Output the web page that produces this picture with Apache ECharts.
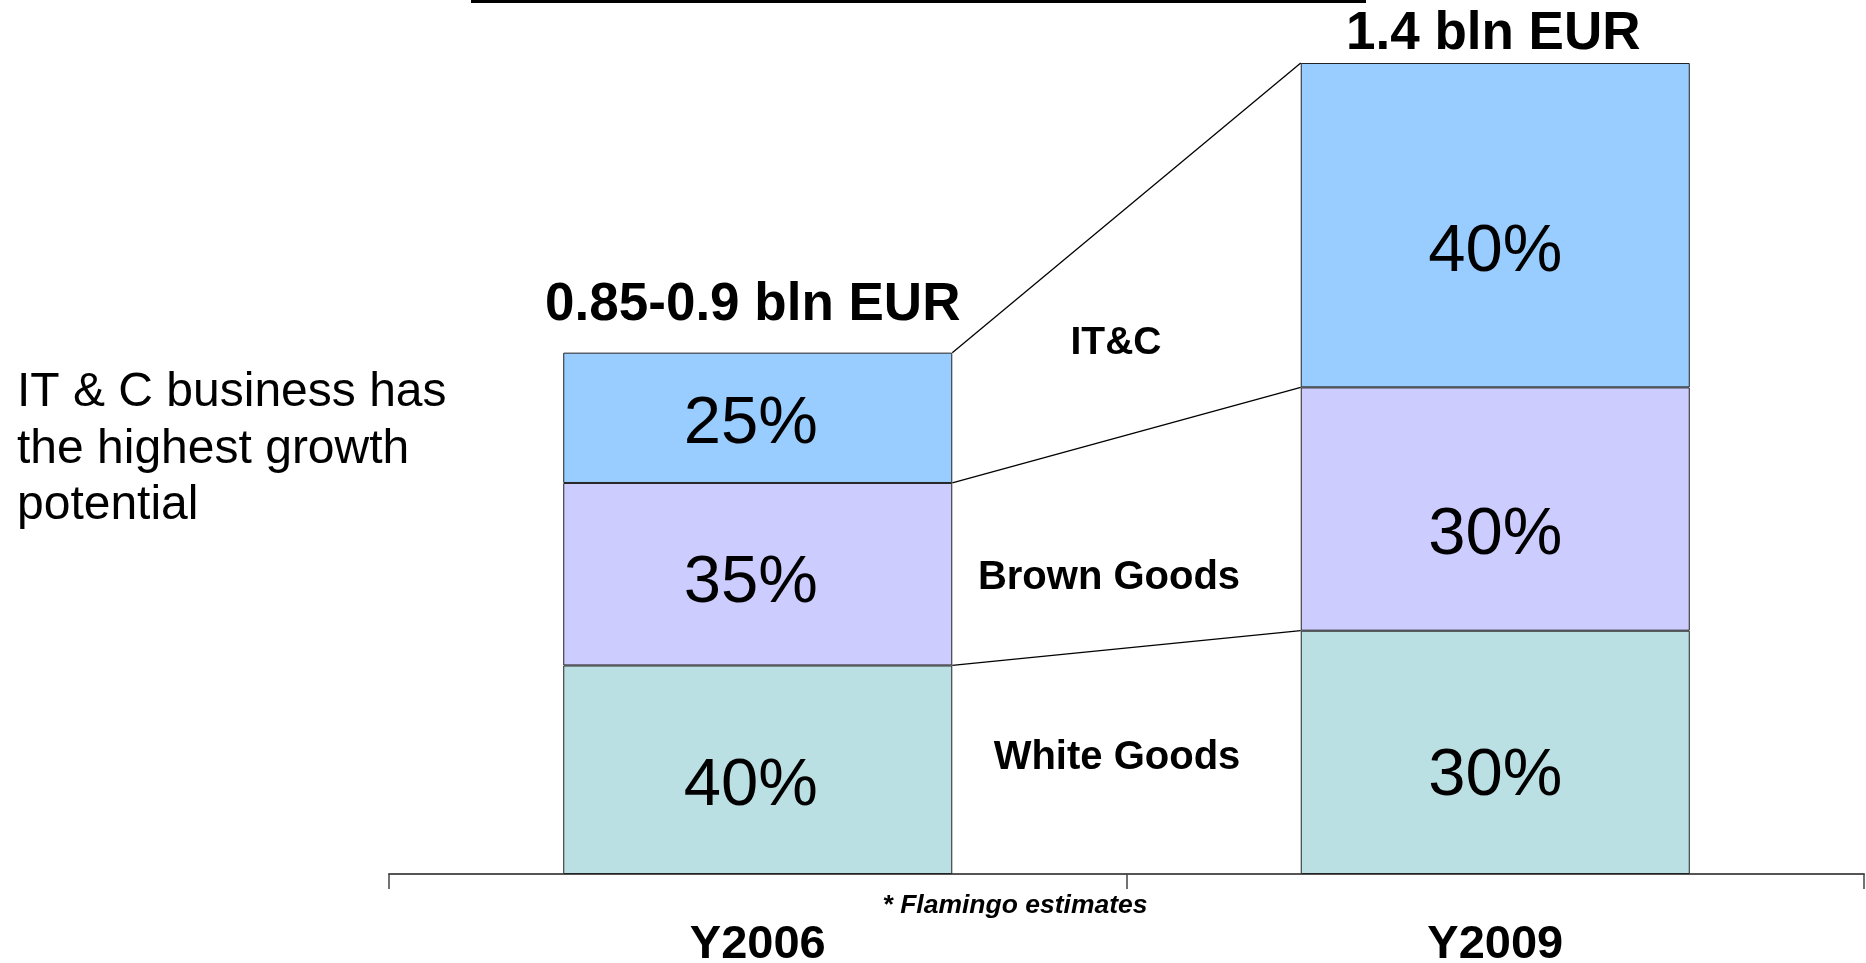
<!DOCTYPE html>
<html>
<head>
<meta charset="utf-8">
<script src="https://cdn.jsdelivr.net/npm/echarts@6/dist/echarts.min.js"></script>
<style>html,body{margin:0;padding:0;background:#fff;}#c{width:1866px;height:963px;}</style>
</head>
<body>
<div id="c"></div>
<script>
// ---- data ----
var categories = ['Y2006', 'Y2009'];
var totals = [0.9, 1.4];                 // bln EUR (bar heights)
var totalLabels = ['0.85-0.9 bln EUR', '1.4 bln EUR'];
var segmentNames = ['White Goods', 'Brown Goods', 'IT&C'];
var whiteShare = [40, 30];
var brownShare = [35, 30];
var itcShare = [25, 40];
var yMax = 1.4;

var FONT = '"Liberation Sans", Arial, Helvetica, sans-serif';
var shares = [whiteShare, brownShare, itcShare];
var colors = ['#BBE0E3', '#CCCCFF', '#99CCFF'];
var BAR_RATIO = 0.5275;
// nudge (px) of the percentage labels, per segment row and bar
var LABEL_NUDGE_Y = [[17, 24], [9, 26], [7, 27]];
var LABEL_NUDGE_X = [-7, 0];

function segValues(sh) { return sh.map(function (p, i) { return +(p / 100 * totals[i]).toFixed(4); }); }
var segData = shares.map(segValues);

// cumulative boundaries for connector lines
var connectors = [];
var cumL = 0, cumR = 0;
for (var k = 0; k < segData.length; k++) {
  cumL += segData[k][0]; cumR += segData[k][1];
  connectors.push([0, +cumL.toFixed(4), +cumR.toFixed(4)]);
}

var series = segData.map(function (vals, s) {
  return {
    name: segmentNames[s],
    type: 'bar',
    stack: 'total',
    barWidth: (BAR_RATIO * 100) + '%',
    data: vals.map(function (v, i) {
      return { value: v, label: { offset: [LABEL_NUDGE_X[i], LABEL_NUDGE_Y[s][i]] } };
    }),
    itemStyle: { color: colors[s], borderColor: '#222', borderWidth: 1 },
    label: {
      show: true, position: 'inside', color: '#000',
      fontFamily: FONT, fontSize: 67,
      formatter: function (p) { return shares[s][p.dataIndex] + '%'; }
    },
    emphasis: { disabled: true },
    z: 2
  };
});

series.push({
  type: 'custom',
  data: connectors,
  encode: { x: 0, y: [1, 2] },
  clip: false,
  z: 3,
  renderItem: function (params, api) {
    var band = api.size([1, 0])[0];
    var half = band * BAR_RATIO / 2;
    var p1 = api.coord([0, api.value(1)]);
    var p2 = api.coord([1, api.value(2)]);
    return {
      type: 'line',
      shape: { x1: p1[0] + half, y1: p1[1], x2: p2[0] - half, y2: p2[1] },
      style: { stroke: '#000', lineWidth: 1.3 }
    };
  }
});

series.push({
  type: 'scatter',
  symbolSize: 0,
  itemStyle: { opacity: 1, color: '#000' },
  data: totals.map(function (t, i) {
    return { value: [i, t], label: { distance: i === 0 ? 21 : 2, offset: [i === 0 ? -5 : -2, 0] } };
  }),
  label: {
    show: true, position: 'top', color: '#000000', opacity: 1, textBorderWidth: 0,
    fontFamily: FONT, fontSize: 53, fontWeight: 'bold', lineHeight: 53,
    formatter: function (p) { return totalLabels[p.dataIndex]; }
  },
  emphasis: { disabled: true },
  z: 4
});

var chart = echarts.init(document.getElementById('c'), null, { renderer: 'canvas' });
chart.setOption({
  backgroundColor: '#fff',
  animation: false,
  tooltip: { show: false },
  grid: { left: 389, right: 2, top: 63, bottom: 89, containLabel: false, outerBoundsMode: 'none' },
  xAxis: {
    type: 'category',
    data: categories,
    axisLine: { lineStyle: { color: '#555', width: 2 } },
    axisTick: { show: true, length: 15, lineStyle: { color: '#444', width: 1.5 } },
    axisLabel: { color: '#000', fontFamily: FONT, fontSize: 47, fontWeight: 'bold', margin: 48 }
  },
  yAxis: { type: 'value', min: 0, max: yMax, show: false, splitLine: { show: false } },
  series: series,
  graphic: [
    { type: 'rect', shape: { x: 471, y: 0, width: 895, height: 3 }, style: { fill: '#000' } },
    { type: 'text', x: 17, y: 365, style: { text: 'IT & C business has\nthe highest growth\npotential', fill: '#000', font: '48px ' + FONT, lineHeight: 56.5, textAlign: 'left', textVerticalAlign: 'top' } },
    { type: 'text', x: 1116, y: 343, style: { text: 'IT&C', fill: '#000', font: 'bold 39px ' + FONT, textAlign: 'center', textVerticalAlign: 'middle' } },
    { type: 'text', x: 1109, y: 578, style: { text: 'Brown Goods', fill: '#000', font: 'bold 40px ' + FONT, textAlign: 'center', textVerticalAlign: 'middle' } },
    { type: 'text', x: 1117, y: 758, style: { text: 'White Goods', fill: '#000', font: 'bold 40px ' + FONT, textAlign: 'center', textVerticalAlign: 'middle' } },
    { type: 'text', x: 1015, y: 906, style: { text: '* Flamingo estimates', fill: '#000', font: 'italic bold 26.5px ' + FONT, textAlign: 'center', textVerticalAlign: 'middle' } }
  ]
});
</script>
</body>
</html>
